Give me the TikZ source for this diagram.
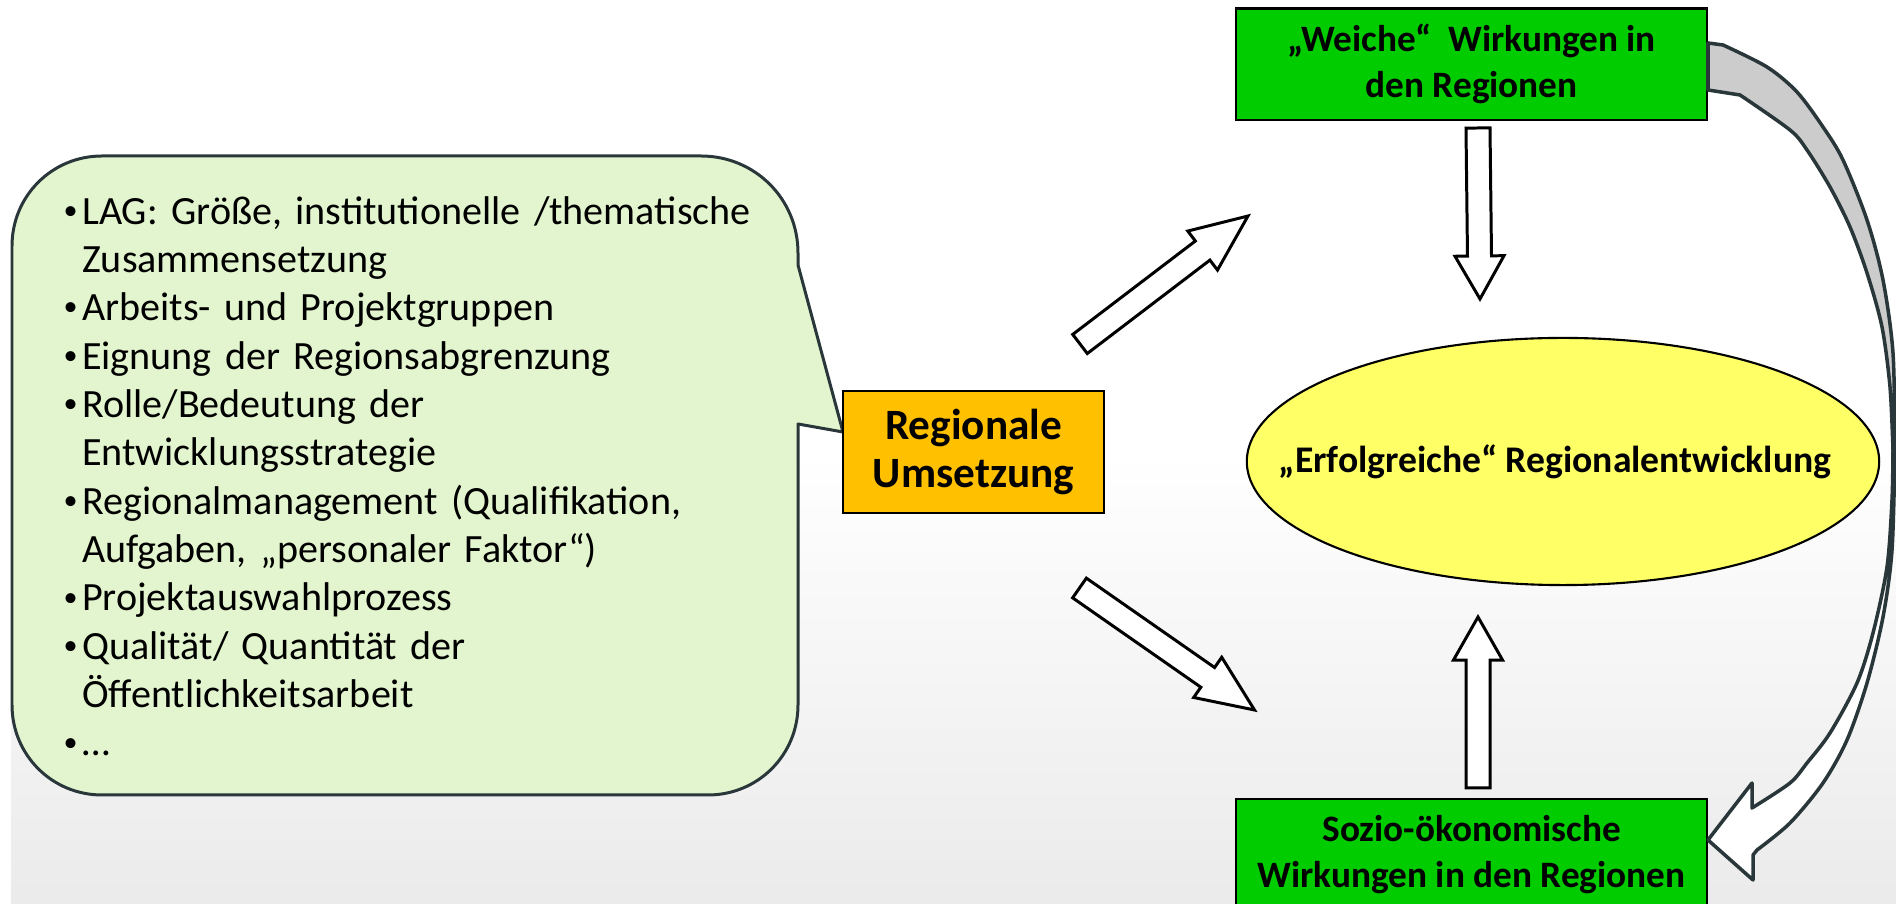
\documentclass[tikz,border=0pt]{standalone}
\usepackage{fontspec}
\setmainfont{Carlito}
\usetikzlibrary{positioning,calc,shapes.geometric}

\definecolor{boxgreen}{RGB}{0,204,0}
\definecolor{boxorange}{RGB}{255,192,0}
\definecolor{goalyellow}{RGB}{255,255,102}
\definecolor{calloutgreen}{RGB}{227,245,206}
\definecolor{darkline}{RGB}{41,54,58}
\definecolor{ribbongray}{RGB}{204,204,204}

% one bullet line of the list
\newcommand\bitem[1]{\par\hangindent=0.185cm\hangafter=1\noindent
  \makebox[0.185cm][l]{\raisebox{0.12em}{\fontsize{8}{8}\selectfont\textbullet}}#1}

% hollow block arrow from #1 to #2, head length #3
\newcommand\hohlpfeil[3]{%
  \coordinate (hb) at ($(#2)!#3!(#1)$);
  \draw[hollow] ($(#1)!0.12cm!90:(#2)$) -- ($(hb)!0.12cm!90:(#2)$)
    -- ($(hb)!0.245cm!90:(#2)$) -- (#2) -- ($(hb)!0.245cm!-90:(#2)$)
    -- ($(hb)!0.12cm!-90:(#2)$) -- ($(#1)!0.12cm!-90:(#2)$) -- cycle;}

\begin{document}
\begin{tikzpicture}[
    x=0.01cm, y=-0.01cm,
    greenbox/.style={rectangle, draw, line width=0.6pt, fill=boxgreen, minimum width=4.704cm,
        minimum height=1.114cm, align=center, font=\bfseries\fontsize{10.6}{13.1}\selectfont},
    orangebox/.style={rectangle, draw, line width=0.6pt, fill=boxorange, minimum width=2.61cm,
        minimum height=1.22cm, align=center, font=\bfseries\fontsize{12.3}{13.9}\selectfont},
    goal/.style={ellipse, draw, line width=0.6pt, fill=goalyellow, minimum width=6.32cm,
        minimum height=2.47cm, inner sep=0pt, font=\bfseries\fontsize{10.7}{13}\selectfont},
    callout/.style={draw=darkline, line width=0.85pt, fill=calloutgreen, line join=round},
    hollow/.style={draw=black, line width=0.85pt, fill=white, line join=miter},
    ribbon/.style={draw=darkline, line width=1pt, line join=round}
]
    \useasboundingbox (0,0) rectangle (1896,904);
    \fill[top color=white, bottom color=black!8, middle color=white] (11,0) rectangle (1896,904);

    % speech bubble with the list
    \draw[callout] (102,156) -- (701,156) .. controls (755,156) and (798,199) .. (798,253)
        -- (798,265) -- (843,432) -- (798,424) -- (798,705)
        .. controls (798,755) and (758,795) .. (708,795) -- (102,795)
        .. controls (52,795) and (12,755) .. (12,705) -- (12,246)
        .. controls (12,196) and (52,156) .. (102,156) -- cycle;
    \node[anchor=west, text width=7.3cm, inner sep=0pt, align=left,
        font=\fontsize{11.4}{13.75}\selectfont] (liste) at (63,466) {%
        \bitem{LAG: Größe, institutionelle /thematische\newline Zusammensetzung}%
        \bitem{Arbeits- und Projektgruppen}%
        \bitem{Eignung der Regionsabgrenzung}%
        \bitem{Rolle/Bedeutung der\newline Entwicklungsstrategie}%
        \bitem{Regionalmanagement (Qualifikation,\newline Aufgaben, „personaler Faktor“)}%
        \bitem{Projektauswahlprozess}%
        \bitem{Qualität/ Quantität der\newline Öffentlichkeitsarbeit}%
        \bitem{…}};

    \node[orangebox] (umsetz) at (973.5,452) {Regionale\\Umsetzung};
    \node[greenbox] (weich) at (1471.6,64.3) {„Weiche“\hspace{0.45em}Wirkungen in\\den Regionen};
    \node[greenbox, below=6.765cm of weich] (sozio) {Sozio-ökonomische\\Wirkungen in den Regionen};
    \node[goal] (erfolg) at (1563,461.5) {\makebox[0pt]{\hspace{-0.16cm}„Erfolgreiche“ Regionalentwicklung}};

    % block arrows
    \coordinate (p1a) at (1080,344);   \coordinate (p1b) at (1248,216);
    \coordinate (p2a) at (1079.5,588); \coordinate (p2b) at (1254.5,710);
    \coordinate (p3a) at (1478,128);   \coordinate (p3b) at (1480,299);
    \coordinate (p4a) at (1478,788);   \coordinate (p4b) at (1478,617);
    \hohlpfeil{p1a}{p1b}{0.57cm}
    \hohlpfeil{p2a}{p2b}{0.57cm}
    \hohlpfeil{p3a}{p3b}{0.43cm}
    \hohlpfeil{p4a}{p4b}{0.43cm}

    % curved arrow from weich to sozio
    \filldraw[ribbon, fill=ribbongray] (weich.north east |- 0,43)
        -- plot[smooth] coordinates {(1723,45) (1767,67) (1797,92) (1823,127) (1843,160)
            (1867,220) (1883,280) (1893,353) (1895,450)}
        -- plot[smooth] coordinates {(1893,450) (1890,387) (1882,327) (1867,273) (1850,227)
            (1830,187) (1807,150) (1790,130) (1740,95)}
        -- (weich.north east |- 0,90) -- cycle;
    \filldraw[ribbon, fill=white] (1895,450)
        -- plot[smooth] coordinates {(1895,450) (1892,550) (1883,617) (1867,683) (1847,740)
            (1823,783) (1790,823) (1757,850)}
        -- (1753,855) -- (1753,880) -- (sozio.east |- 0,840) -- (1752,783) -- (1752,808)
        -- plot[smooth] coordinates {(1752,808) (1790,783) (1807,763) (1830,733) (1857,683)
            (1873,633) (1887,567) (1892,500) (1893,450)}
        -- cycle;
\end{tikzpicture}
\end{document}
